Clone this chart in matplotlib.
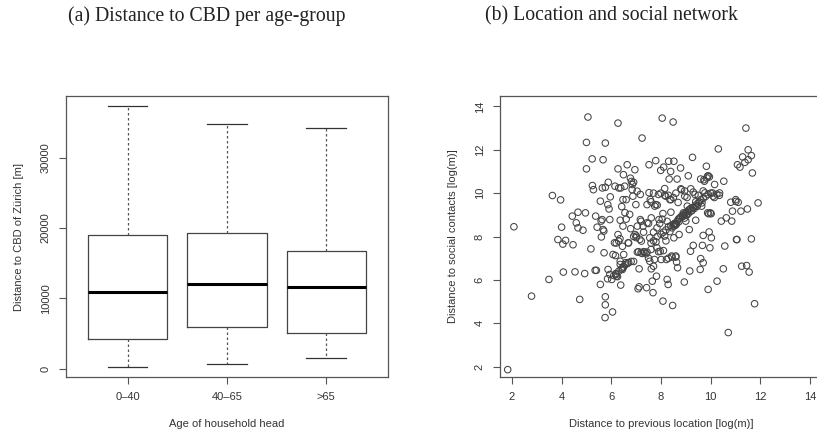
import matplotlib
matplotlib.use("Agg")
import matplotlib.pyplot as plt
import numpy as np

# (a) box plot statistics [m]
age_groups = ["0\u201340", "40\u201365", ">65"]
whislo = [330, 710, 1560]
q1 = [4250, 5940, 5090]
med = [10940, 12080, 11600]
q3 = [19010, 19290, 16790]
whishi = [37260, 34810, 34150]

# (b) scatter points: distance to previous location / to social contacts [log(m)]
prev_loc = [
    1.83, 2.08, 2.79, 3.49, 3.63, 3.96, 4.00, 3.85, 4.16, 4.05, 4.07, 4.46, 4.43, 4.66, 4.96,
    4.59, 4.66, 4.86, 4.54, 4.73, 4.93, 5.00, 5.00, 5.06, 5.23, 5.24, 5.28, 5.18, 5.37, 5.43,
    5.56, 5.59, 5.63, 5.60, 5.67, 5.35, 5.40, 5.56, 5.76, 5.76, 5.75, 6.05, 5.67, 5.76, 5.64,
    5.76, 5.71, 5.70, 5.86, 5.91, 5.88, 5.96, 5.94, 5.87, 5.85, 5.94, 6.02, 6.07, 6.13, 6.17,
    6.18, 6.15, 6.27, 6.27, 6.30, 6.38, 6.27, 6.30, 6.36, 6.36, 6.36, 6.21, 6.38, 6.42, 6.47,
    6.49, 6.47, 6.50, 6.45, 6.54, 6.64, 6.68, 6.58, 6.74, 6.77, 6.78, 6.81, 6.84, 6.87, 6.95,
    6.96, 6.99, 7.01, 7.04, 7.05, 7.05, 7.08, 7.12, 7.12, 7.15, 7.17, 7.17, 7.21, 7.24, 7.24,
    7.28, 7.35, 7.42, 7.44, 7.44, 7.44, 7.52, 7.52, 7.55, 7.55, 7.57, 7.61, 7.65, 7.68, 7.61,
    7.70, 7.74, 7.79, 7.79, 7.82, 7.84, 7.84, 7.90, 7.92, 7.97, 7.99, 8.01, 8.05, 8.08, 8.08,
    8.11, 8.15, 8.15, 8.19, 8.22, 8.25, 8.29, 8.31, 8.33, 8.36, 8.36, 8.39, 8.40, 8.43, 8.47,
    8.49, 8.52, 8.52, 8.56, 8.62, 8.60, 8.63, 8.65, 8.67, 8.69, 8.73, 8.79, 8.83, 8.87, 8.90,
    8.94, 8.96, 9.00, 9.06, 9.10, 9.14, 9.16, 9.19, 9.27, 9.30, 9.37, 9.40, 9.46, 9.58, 9.60,
    9.64, 9.67, 9.70, 9.70, 9.73, 9.77, 9.83, 9.88, 9.88, 9.90, 9.94, 9.97, 9.99, 10.03, 10.07,
    10.10, 10.16, 10.26, 10.31, 10.36, 10.43, 10.51, 10.53, 10.57, 10.63, 10.71, 10.81, 10.85, 10.88, 11.01,
    11.04, 11.08, 11.11, 11.18, 11.22, 11.25, 11.29, 11.38, 11.42, 11.45, 11.48, 11.51, 11.51, 11.55, 11.64,
    11.64, 11.68, 11.77, 11.91, 11.02, 11.06,
    # dense band near the diagonal
    6.10, 6.20, 6.30, 6.40, 6.50, 6.55, 6.65, 6.70, 6.80, 6.90, 6.25, 6.45,
    7.60, 7.70, 7.80, 7.85, 8.00, 8.10, 8.20, 8.30, 8.40, 8.50, 8.55, 8.60, 8.65, 8.70, 8.75,
    8.80, 8.85, 8.90, 8.95, 9.00, 9.05, 9.10, 9.15, 9.20, 9.25, 9.30, 9.40, 9.50, 9.55, 9.60,
    9.70, 9.80, 9.90, 10.00, 9.35, 8.95, 8.45, 9.65,
    8.58, 8.62, 8.88, 9.02, 9.12, 9.22, 9.28, 9.45, 8.72, 8.52,
    9.90, 9.95, 9.85, 9.60, 9.75, 9.92, 10.02,
    7.70, 7.60, 7.75, 7.85, 8.00, 8.15, 8.30, 8.40, 8.50, 8.60, 8.80, 8.95, 9.05, 9.20, 9.30,
    9.40, 9.50, 9.70, 10.15, 10.25, 10.35,
    7.30, 7.40, 7.50, 7.60, 7.90, 8.10, 8.20, 8.30, 8.45, 8.60, 7.20, 7.30, 7.50, 7.70, 7.95,
    8.05, 8.25,
    6.20, 6.35, 6.45, 6.70, 6.90, 7.00, 7.10, 7.20, 6.60, 6.55, 6.60, 6.85, 6.90,
]
social = [
    1.86, 8.45, 5.25, 6.02, 9.89, 9.69, 8.43, 7.86, 7.82, 7.65, 6.36, 7.62, 8.94, 9.12, 9.09,
    8.63, 8.40, 8.29, 6.37, 5.10, 6.29, 11.12, 12.34, 13.51, 11.58, 10.35, 10.16, 7.43, 8.94, 8.43,
    9.63, 8.71, 8.78, 7.98, 8.32, 6.44, 6.44, 5.79, 5.22, 4.85, 4.26, 4.52, 11.54, 12.31, 10.24,
    10.27, 7.25, 8.25, 9.47, 9.27, 10.50, 9.83, 8.78, 6.48, 6.05, 6.25, 6.02, 7.17, 7.71, 7.12,
    6.29, 10.32, 13.23, 11.12, 10.24, 10.24, 8.09, 7.79, 8.75, 6.86, 6.71, 6.17, 5.76, 9.38, 9.70,
    10.85, 8.48, 7.17, 6.48, 10.32, 11.31, 7.71, 6.79, 9.02, 10.69, 8.36, 10.54, 10.16, 9.86, 11.08,
    8.09, 9.47, 8.02, 10.09, 7.28, 8.48, 5.59, 5.68, 6.51, 7.87, 9.94, 8.78, 7.79, 12.54, 7.22,
    8.48, 7.28, 5.64, 7.28, 9.47, 8.63, 11.31, 10.02, 6.86, 7.94, 9.70, 8.86, 5.94, 5.41, 6.51,
    6.63, 6.94, 11.50, 9.47, 6.17, 8.40, 7.48, 9.94, 8.78, 7.32, 11.05, 6.94, 13.46, 5.02, 9.06,
    11.20, 8.02, 10.21, 9.86, 6.94, 6.02, 5.79, 11.47, 10.65, 9.70, 8.23, 11.00, 9.12, 7.10, 4.82,
    13.28, 11.47, 7.94, 8.60, 8.60, 7.10, 6.82, 10.65, 6.56, 9.57, 8.09, 11.16, 10.16, 8.94, 9.09,
    5.90, 9.86, 8.71, 9.40, 10.80, 8.32, 6.41, 7.32, 11.65, 7.59, 9.94, 8.75, 9.40, 6.48, 6.98,
    9.40, 7.59, 6.79, 8.05, 10.62, 10.01, 11.24, 10.78, 9.09, 5.56, 8.21, 7.48, 9.09, 7.94, 10.01,
    9.86, 10.40, 5.94, 12.04, 10.01, 8.71, 6.51, 10.55, 7.56, 8.86, 3.57, 9.58, 8.71, 9.17, 9.70,
    7.86, 11.31, 9.58, 11.20, 9.17, 6.63, 11.67, 11.42, 13.00, 6.66, 9.27, 12.00, 11.54, 6.36, 11.73,
    7.89, 10.93, 4.90, 9.55, 9.62, 7.86,
    6.20, 6.25, 6.40, 6.50, 6.60, 6.70, 6.75, 6.80, 6.85, 6.85, 6.15, 6.55,
    7.70, 7.80, 7.75, 8.00, 8.10, 8.20, 8.30, 8.45, 8.50, 8.55, 8.60, 8.55, 8.70, 8.80, 8.85,
    8.90, 8.95, 9.00, 9.05, 9.10, 9.00, 9.20, 9.25, 9.30, 9.20, 9.35, 9.45, 9.55, 9.60, 9.70,
    9.75, 9.85, 9.95, 10.00, 9.30, 8.85, 8.40, 9.55,
    8.52, 8.58, 8.92, 8.98, 9.08, 9.18, 9.32, 9.40, 8.68, 8.48,
    10.80, 10.75, 10.70, 10.65, 10.55, 9.05, 9.05,
    10.00, 9.60, 9.40, 9.45, 10.00, 9.90, 9.90, 9.70, 9.80, 10.00, 10.20, 10.10, 9.80, 10.20, 10.05,
    9.60, 9.90, 10.10, 9.80, 9.95, 9.90,
    7.30, 7.20, 7.00, 7.40, 7.30, 7.35, 7.80, 7.00, 7.05, 7.05, 8.70, 8.20, 8.60, 8.20, 8.60,
    8.80, 8.70,
    7.70, 7.90, 7.55, 7.70, 8.00, 7.95, 7.30, 7.25, 8.80, 9.10, 9.70, 10.40, 10.50,
]

plt.rcParams["font.family"] = ["Liberation Sans", "DejaVu Sans"]
fig = plt.figure(figsize=(8.17, 4.34), dpi=100)
axis_col = "#555555"
text_col = "#333333"

# ---- (a) box plot
ax1 = fig.add_axes([0.0808, 0.1313, 0.394, 0.6475])
stats = []
for i in range(len(age_groups)):
    stats.append(dict(whislo=whislo[i], q1=q1[i], med=med[i], q3=q3[i],
                      whishi=whishi[i], fliers=[], label=age_groups[i]))
ax1.bxp(stats, positions=[1, 2, 3], widths=0.8, showfliers=False,
        boxprops=dict(color="#444444", linewidth=0.9),
        medianprops=dict(color="black", linewidth=2.2),
        whiskerprops=dict(color="#555555", linewidth=0.9, linestyle=(0, (2, 2))),
        capprops=dict(color="#333333", linewidth=0.9), capwidths=0.4)
ax1.set_xlim(0.38, 3.62)
ax1.set_ylim(-1147, 38741)
ax1.set_yticks([0, 10000, 20000, 30000])
ax1.set_yticklabels(["0", "10000", "20000", "30000"], rotation=90, va="center")
ax1.set_xlabel("Age of household head", fontsize=8, color=text_col, labelpad=12)
ax1.set_ylabel("Distance to CBD of Z\u00fcrich [m]", fontsize=8, color=text_col, labelpad=12)
fig.text(0.253, 0.963, "(a) Distance to CBD per age-group", ha="center", va="center",
         fontsize=14.2, family=["Liberation Serif", "DejaVu Serif"], color="#222222")

# ---- (b) scatter
ax2 = fig.add_axes([0.612, 0.1313, 0.394, 0.6475])
ax2.scatter(prev_loc, social, s=22, facecolors="none", edgecolors="#444444", linewidths=0.75)
ax2.set_xlim(1.52, 14.48)
ax2.set_ylim(1.52, 14.48)
ax2.set_xticks([2, 4, 6, 8, 10, 12, 14])
ax2.set_yticks([2, 4, 6, 8, 10, 12, 14])
ax2.set_yticklabels(["2", "4", "6", "8", "10", "12", "14"], rotation=90, va="center")
ax2.set_xlabel("Distance to previous location [log(m)]", fontsize=8, color=text_col, labelpad=12)
ax2.set_ylabel("Distance to social contacts [log(m)]", fontsize=8, color=text_col, labelpad=12)
fig.text(0.749, 0.963, "(b) Location and social network", ha="center", va="center",
         fontsize=14.2, family=["Liberation Serif", "DejaVu Serif"], color="#222222")

for ax in (ax1, ax2):
    for sp in ax.spines.values():
        sp.set_color(axis_col)
        sp.set_linewidth(0.9)
    ax.tick_params(direction="out", length=5, width=0.8, color=axis_col,
                   labelsize=8, labelcolor=text_col, pad=6)

fig.savefig("out.png", dpi=100)
